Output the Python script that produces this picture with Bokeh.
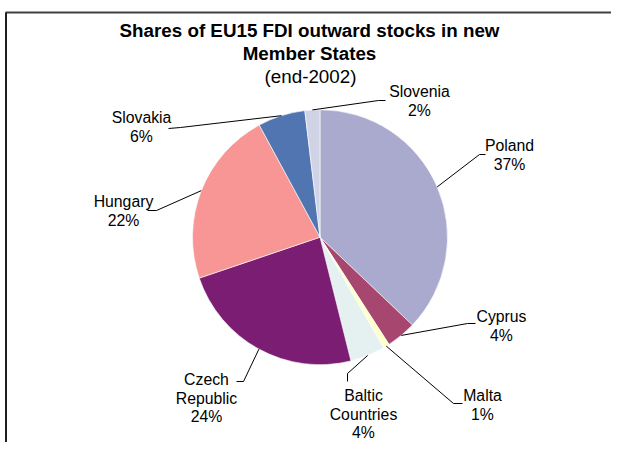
import numpy as np
from bokeh.plotting import figure
from bokeh.models import Range1d, ColumnDataSource
from bokeh.core.properties import value
from bokeh.embed import file_html
from bokeh.resources import INLINE

# ---------------- data ----------------
countries = ["Poland", "Cyprus", "Malta", "Baltic Countries", "Czech Republic",
             "Hungary", "Slovakia", "Slovenia"]
shares = [37.1, 3.8, 0.8, 4.4, 23.7, 22.3, 6.0, 1.9]
pct_labels = ["37%", "4%", "1%", "4%", "24%", "22%", "6%", "2%"]
name_lines = [["Poland"], ["Cyprus"], ["Malta"], ["Baltic", "Countries"],
              ["Czech", "Republic"], ["Hungary"], ["Slovakia"], ["Slovenia"]]
colors = ["#A9AACE", "#A7466F", "#FFFFCC", "#E5F1F1", "#7B1E73",
          "#F79694", "#5175B1", "#D0D3E6"]

title_lines = ["Shares of EU15 FDI outward stocks in new", "Member States"]
subtitle = "(end-2002)"

# ---------------- layout (image pixel coordinates) ----------------
W, H = 611, 442
FONT = "Liberation Sans"

pie_cx, pie_cy, pie_r = 319.5, 236.7, 127.5
label_pos = [(509, 145), (501, 316), (482, 395), (363, 395), (206, 379),
             (123, 201), (141, 117), (419, 91)]
line_gap = 18.5
elbows = [
    [(479, 154), (485, 154)],
    [(467, 323), (475, 323)],
    [(453, 403), (462, 403)],
    [(347, 373), (347, 381)],
    [(243, 381), (236, 381)],
    [(156, 210), (147, 210)],
    [(180, 127), (168, 128)],
    [(378, 100), (385, 100)],
]


def fy(y):
    return H - y


p = figure(width=W, height=H, output_backend="svg", toolbar_location=None,
           x_range=Range1d(0, W), y_range=Range1d(0, H),
           min_border=0, x_axis_type=None, y_axis_type=None)
p.grid.visible = False
p.outline_line_color = None
p.background_fill_color = "white"
p.border_fill_color = "white"

# frame (top and left edges visible)
p.line(x=[5, W], y=[fy(12), fy(12)], line_color="#404040", line_width=2)
p.line(x=[5.5, 5.5], y=[fy(12), fy(H)], line_color="#202020", line_width=2)

# pie
frac = np.array(shares) / np.sum(shares)
cum_end = np.cumsum(frac)
cum_start = cum_end - frac
start_angles = np.pi / 2 - 2 * np.pi * cum_end
end_angles = np.pi / 2 - 2 * np.pi * cum_start
src = ColumnDataSource(dict(start=start_angles, end=end_angles, color=colors,
                            country=countries))
p.wedge(x=pie_cx, y=fy(pie_cy), radius=pie_r, start_angle="start", end_angle="end",
        fill_color="color", line_color="white", line_width=0.6, source=src)

# leader lines
mid = 2 * np.pi * (cum_start + frac / 2)
xs, ys = [], []
for i in range(len(countries)):
    sx = pie_cx + pie_r * np.sin(mid[i])
    sy = pie_cy - pie_r * np.cos(mid[i])
    px = [sx] + [e[0] for e in elbows[i]]
    py = [fy(sy)] + [fy(e[1]) for e in elbows[i]]
    xs.append(px)
    ys.append(py)
p.multi_line(xs=xs, ys=ys, line_color="black", line_width=1)

# labels
tx, ty, tt = [], [], []
for i in range(len(countries)):
    lx, ly = label_pos[i]
    lines = name_lines[i] + [pct_labels[i]]
    for j, t in enumerate(lines):
        tx.append(lx)
        ty.append(fy(ly + j * line_gap))
        tt.append(t)
p.text(x=tx, y=ty, text=tt, text_font=value(FONT), text_font_size="15.8px",
       text_align="center", text_baseline="middle", text_color="black")

# title
p.text(x=[309, 309], y=[fy(30), fy(53)], text=title_lines, text_font=value(FONT),
       text_font_size="18.8px", text_font_style="bold", text_align="center",
       text_baseline="middle", text_color="black")
p.text(x=[310], y=[fy(76)], text=[subtitle], text_font=value(FONT),
       text_font_size="18.8px", text_align="center", text_baseline="middle",
       text_color="black")

open("out.html", "w").write(file_html(p, INLINE))
